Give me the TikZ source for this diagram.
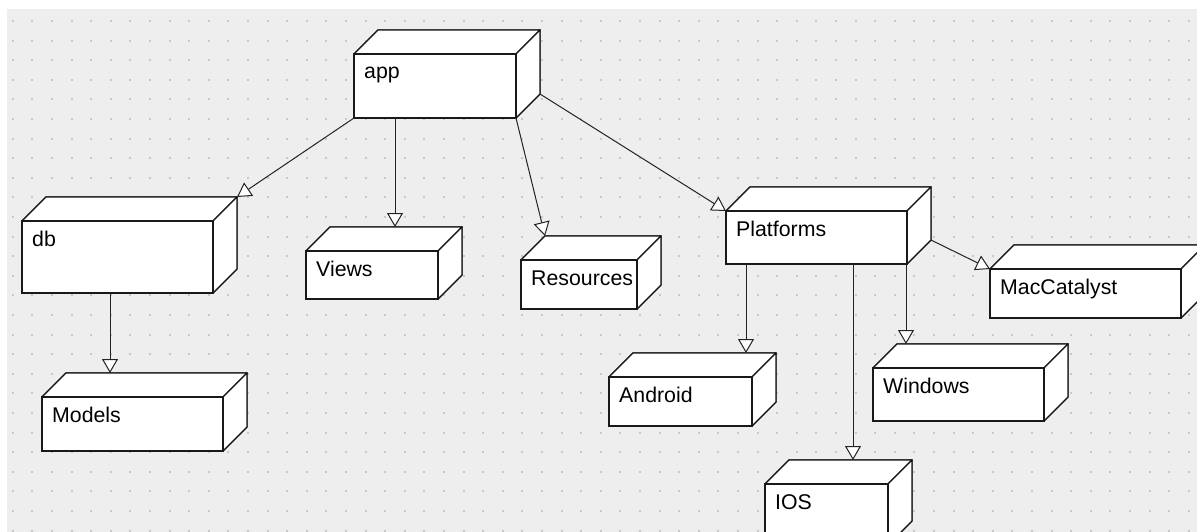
\documentclass[tikz,border=0pt]{standalone}
\usepackage{fontspec}
\setmainfont{Liberation Sans}
\usetikzlibrary{arrows.meta,calc}
\definecolor{bggray}{RGB}{238,238,238}
\definecolor{dotgray}{RGB}{200,200,200}
\definecolor{linec}{RGB}{25,25,25}
\definecolor{edgec}{RGB}{35,35,35}
\tikzset{
  facebox/.style={draw=linec, fill=white, line width=1.3pt, line join=round},
  frontbox/.style={draw=linec, fill=white, line width=1.3pt, rectangle, inner sep=0pt, outer sep=0pt, anchor=north west},
  boxlabel/.style={inner sep=0pt, anchor=base west, text=black, font=\fontsize{21.3}{25}\selectfont},
  conn/.style={draw=edgec, line width=1pt, -{Triangle[length=14pt,width=16pt,fill=white,line width=1pt]}}
}
% name, x1, y1, x2, y2, text
\newcommand\mycube[6]{%
  \fill[facebox] (#2,#3) -- ({#2+24},{#3-24}) -- ({#4+24},{#3-24}) -- (#4,#3) -- cycle;
  \fill[facebox] (#4,#3) -- ({#4+24},{#3-24}) -- ({#4+24},{#5-24}) -- (#4,#5) -- cycle;
  \draw[facebox] (#2,#3) -- ({#2+24},{#3-24}) -- ({#4+24},{#3-24}) -- (#4,#3) -- cycle;
  \draw[facebox] (#4,#3) -- ({#4+24},{#3-24}) -- ({#4+24},{#5-24}) -- (#4,#5) -- cycle;
  \node[frontbox, minimum width={(#4)-(#2)}, minimum height={(#5)-(#3)}] (#1) at (#2,#3) {};
  \coordinate (#1-btl) at ({#2+24},{#3-24});
  \coordinate (#1-btr) at ({#4+24},{#3-24});
  \coordinate (#1-bbr) at ({#4+24},{#5-24});
  \node[boxlabel] (#1-t) at ({#2+10},{#3+25}) {#6};
}
\begin{document}
\begin{tikzpicture}[x=1pt,y=-1pt]
\useasboundingbox (0,0) rectangle (1197,532);
\clip (0,0) rectangle (1197,532);
\fill[white] (0,0) rectangle (1197,532);
\fill[bggray] (7,9) rectangle (1197,532);
\foreach \i in {0,...,60} {
  \foreach \j in {0,...,26} {
    \fill[dotgray] ({11.7+19.6*\i},{20+19.6*\j}) rectangle +(2,2);
  }
}
% boxes
\mycube{app}{354}{54}{516}{118}{app}
\mycube{db}{22}{221}{213}{293}{db}
\mycube{views}{306}{251}{438}{299}{Views}
\mycube{res}{521}{260}{637}{309}{Resources}
\mycube{plat}{726}{211}{907}{264}{Platforms}
\mycube{mac}{990}{269}{1181}{318}{MacCatalyst}
\mycube{models}{42}{397}{223}{451}{Models}
\mycube{android}{609}{377}{752}{426}{Android}
\mycube{windows}{873}{368}{1044}{421}{Windows}
\mycube{ios}{765}{484}{888}{545}{IOS}
% connector start points
\coordinate (s-views) at ($(app.south west)+(41,0)$);
\coordinate (s-models) at ($(db.south west)+(88,0)$);
\coordinate (s-android) at ($(plat.south west)+(20,0)$);
\coordinate (s-ios) at ($(plat.south west)+(127,0)$);
\coordinate (s-windows) at ($(plat.south west)+(180,0)$);
% connectors
\draw[conn] (app.south west) -- (db-btr);
\draw[conn] (s-views) -- (s-views |- views-btl);
\draw[conn] (app.south east) -- (res-btl);
\draw[conn] (app-bbr) -- (plat.north west);
\draw[conn] (s-models) -- (s-models |- models-btl);
\draw[conn] (s-android) -- (s-android |- android-btl);
\draw[conn] (s-ios) -- (s-ios |- ios-btl);
\draw[conn] (s-windows) -- (s-windows |- windows-btl);
\draw[conn] (plat-bbr) -- (mac.north west);
\end{tikzpicture}
\end{document}
